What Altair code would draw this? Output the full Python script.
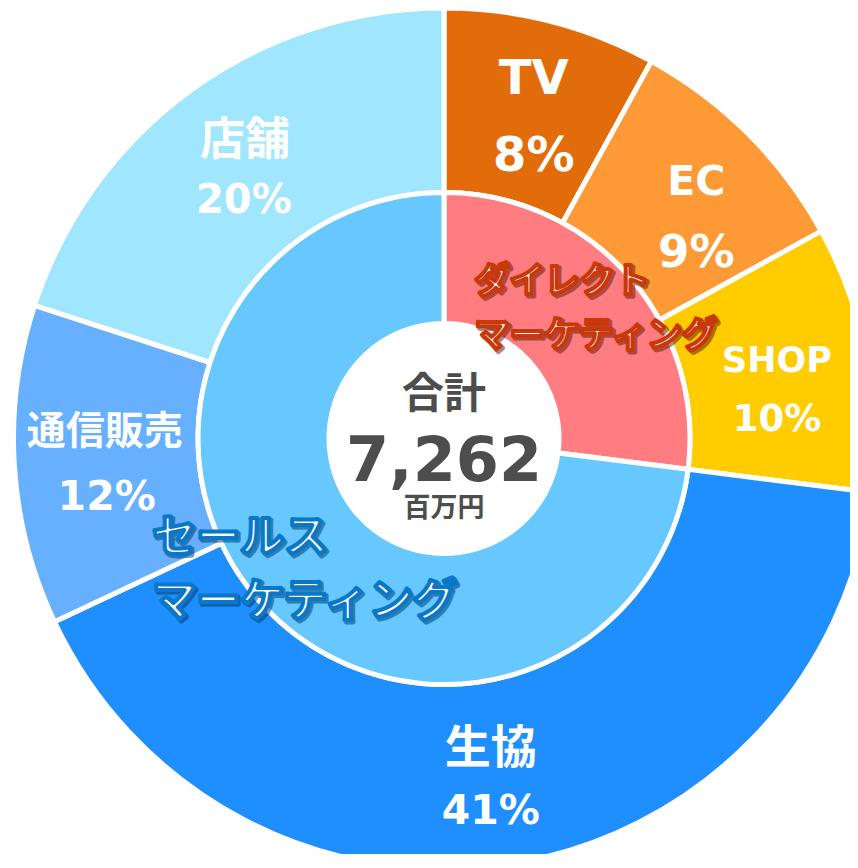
import altair as alt
import pandas as pd

# ---- data ----
outer_names = ["TV", "EC", "SHOP", "生協", "通信販売", "店舗"]
outer_share = [8, 9, 10, 41, 12, 20]
outer_colors = ["#E36C0A", "#FD9A36", "#FFCC00", "#1F8FFF", "#66B0FF", "#A0E6FF"]

inner_line1 = ["ダイレクト", "セールス"]
inner_line2 = ["マーケティング", "マーケティング"]
inner_share = [27, 73]
inner_colors = ["#FF7C80", "#66C8FF"]

total_title = "合計"
total_value = 7262
total_unit = "百万円"

outer = pd.DataFrame({"name": outer_names, "share": outer_share, "i": list(range(len(outer_names)))})
outer["pct"] = outer["share"].astype(str) + "%"
inner = pd.DataFrame({"l1": inner_line1, "l2": inner_line2, "share": inner_share,
                      "i": list(range(len(inner_share)))})
inner["key"] = inner["l1"] + inner["l2"]
center = pd.DataFrame({"title": [total_title], "total": [total_value], "unit": [total_unit]})

# ---- layout / style ----
W, H = 842, 846
CX, CY = 436, 430.5
LAT = "'DejaVu Sans', 'Noto Sans CJK JP', sans-serif"
JP = "'Noto Sans CJK JP', sans-serif"
# per outer label: (dx, dy, size) for the name line and for the percent line
outer_label_style = [
    dict(name=(6, -32, 48), pct=(6, 45, 48)),
    dict(name=(14, -17, 41), pct=(14, 53, 45)),
    dict(name=(2, -14, 35), pct=(2, 45, 37)),
    dict(name=(-6, -22, 46), pct=(-6, 41, 41)),
    dict(name=(-3, -28, 39), pct=(-1, 38, 41)),
    dict(name=(-1, -25, 45), pct=(-2, 35, 40)),
]
inner_style = [
    dict(size=35, stroke="#C8380A", shadow="#5A1800", dx=-117, dy1=-15, dy2=39),
    dict(size=44, stroke="#0A78C8", shadow="#003563", dx=-144, dy1=-17, dy2=47),
]

pos = dict(x=alt.value(CX), y=alt.value(CY))

base_o = alt.Chart(outer).encode(
    theta=alt.Theta("share:Q", stack=True),
    order=alt.Order("i:Q", sort="ascending"),
    **pos,
)
arcs_o = base_o.mark_arc(radius=430.5, radius2=246, stroke="white", strokeWidth=5).encode(
    color=alt.Color("name:N", scale=alt.Scale(domain=outer_names, range=outer_colors), legend=None)
)

outer_text_layers = []
for k, st in enumerate(outer_label_style):
    for field, key in (("name", "name"), ("pct", "pct")):
        dx, dy, fs = st[key]
        txt = alt.condition(alt.datum.i == k, alt.Text(f"{field}:N"), alt.value(""))
        outer_text_layers.append(
            base_o.mark_text(radius=337, dx=dx, dy=dy, fontSize=fs, color="white", font=LAT,
                             fontWeight="bold", baseline="middle").encode(text=txt)
        )

base_i = alt.Chart(inner).encode(
    theta=alt.Theta("share:Q", stack=True),
    order=alt.Order("i:Q", sort="ascending"),
    **pos,
)
arcs_i = base_i.mark_arc(radius=246, radius2=115, stroke="white", strokeWidth=5).encode(
    color=alt.Color("key:N", scale=alt.Scale(domain=list(inner["key"]), range=inner_colors), legend=None)
)

inner_layers = []
for k, st in enumerate(inner_style):
    for field, dyk in (("l1", "dy1"), ("l2", "dy2")):
        txt = alt.condition(alt.datum.i == k, alt.Text(f"{field}:N"), alt.value(""))
        shadow = base_i.mark_text(radius=197, align="left", baseline="alphabetic",
                                  dx=st["dx"] + 2, dy=st[dyk] + 2,
                                  font=JP, fontWeight="bold", fontSize=st["size"],
                                  fill=st["shadow"], stroke=st["shadow"], strokeWidth=5,
                                  strokeJoin="round", opacity=0.5).encode(text=txt)
        main = base_i.mark_text(radius=197, align="left", baseline="alphabetic",
                                dx=st["dx"], dy=st[dyk],
                                font=JP, fontWeight="bold", fontSize=st["size"],
                                fill="white", stroke=st["stroke"], strokeWidth=4,
                                strokeJoin="round").encode(text=txt)
        inner_layers += [shadow, main]

base_c = alt.Chart(center).encode(**pos)
c_title = base_c.mark_text(dy=-31, baseline="alphabetic", font=JP, fontWeight="bold",
                           fontSize=42, color="#4D4D4D").encode(text="title:N")
c_total = base_c.mark_text(dy=42, baseline="alphabetic", font=LAT, fontWeight="bold",
                           fontSize=62, color="#4D4D4D").encode(text=alt.Text("total:Q", format=","))
c_unit = base_c.mark_text(dy=78, baseline="alphabetic", font=JP, fontWeight="bold",
                          fontSize=27, color="#4D4D4D").encode(text="unit:N")

chart = alt.layer(
    arcs_o, arcs_i, *outer_text_layers, *inner_layers, c_title, c_total, c_unit
).resolve_scale(
    color="independent"
).properties(
    width=W, height=H, autosize=alt.AutoSizeParams(type="none"), padding=0,
).configure_view(strokeWidth=0)

chart.save("out.html", embed_options={"renderer": "svg", "actions": False})
